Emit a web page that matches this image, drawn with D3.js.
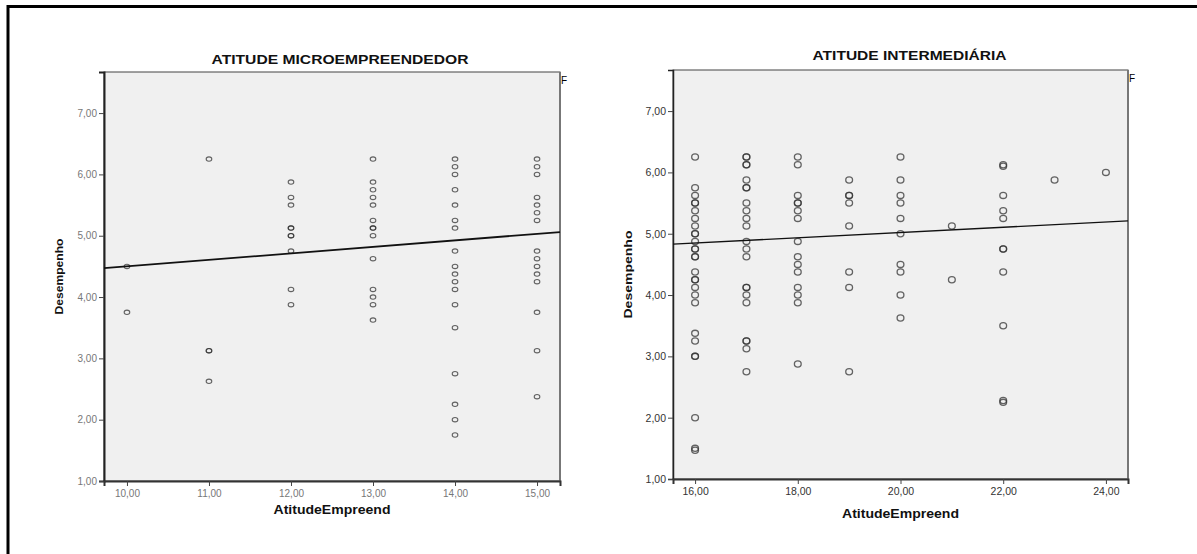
<!DOCTYPE html>
<html>
<head>
<meta charset="utf-8">
<script src="https://cdn.jsdelivr.net/npm/d3@7"></script>
<style>
  body { margin: 0; background: #fff; }
  svg { display: block; font-family: "Liberation Sans", Arial, sans-serif; }
</style>
</head>
<body>
<div id="chart"></div>
<script>
// ---- data ----
// left panel: ATITUDE MICROEMPREENDEDOR
let microCols = [10, 11, 12, 13, 14, 15]
let microVals = [
    [4.5, 3.75],
    [6.25, 3.125, 3.125, 2.625],
    [5.875, 5.625, 5.5, 5.125, 5.125, 5.0, 5.0, 4.75, 4.125, 3.875],
    [6.25, 5.875, 5.75, 5.625, 5.5, 5.25, 5.125, 5.125, 5.0, 4.625, 4.125, 4.0, 3.875, 3.625],
    [6.25, 6.125, 6.0, 5.75, 5.5, 5.25, 5.125, 4.75, 4.5, 4.375, 4.25, 4.125, 3.875, 3.5, 2.75, 2.25, 2.0, 1.75],
    [6.25, 6.125, 6.0, 5.625, 5.5, 5.375, 5.25, 4.75, 4.625, 4.5, 4.375, 4.25, 3.75, 3.125, 2.375]
]
let microLine = [[9.72, 4.47], [15.28, 5.06]]
let microXTicks = [10, 11, 12, 13, 14, 15]

// right panel: ATITUDE INTERMEDIÁRIA
let interCols = [16, 17, 18, 19, 20, 21, 22, 23, 24]
let interVals = [
    [6.25, 5.75, 5.625, 5.5, 5.5, 5.375, 5.25, 5.125, 5.0, 5.0, 4.875, 4.75, 4.75, 4.625, 4.625, 4.375, 4.25, 4.25, 4.125, 4.0, 3.875, 3.375, 3.25, 3.0, 3.0, 2.0, 1.5, 1.47],
    [6.25, 6.25, 6.125, 6.125, 5.875, 5.75, 5.75, 5.5, 5.375, 5.25, 5.125, 4.875, 4.75, 4.625, 4.125, 4.125, 4.0, 3.875, 3.25, 3.25, 3.125, 2.75],
    [6.25, 6.125, 5.625, 5.5, 5.5, 5.375, 5.25, 4.875, 4.625, 4.5, 4.375, 4.125, 4.0, 3.875, 2.875],
    [5.875, 5.625, 5.625, 5.5, 5.125, 4.375, 4.125, 2.75],
    [6.25, 5.875, 5.625, 5.5, 5.25, 5.0, 4.5, 4.375, 4.0, 3.625],
    [5.125, 4.25],
    [6.125, 6.1, 5.625, 5.375, 5.25, 4.75, 4.75, 4.375, 3.5, 2.25, 2.28],
    [5.875],
    [6.0]
]
let interLine = [[15.57, 4.83], [24.43, 5.21]]
let interXTicks = [16, 18, 20, 22, 24]

let yTicks = [1, 2, 3, 4, 5, 6, 7]

const W = 1197, H = 554
const ptBR = d3.formatLocale({ decimal: ",", thousands: ".", grouping: [3], currency: ["R$", ""] })
const fmt = ptBR.format(".2f")

let svg = d3.select("#chart")
    .append("svg")
    .attr("width", W)
    .attr("height", H)

// outer frame (only top and left visible)
svg.append("path")
    .attr("d", "M8," + H + " L8,6.5 L" + W + ",6.5")
    .attr("fill", "none")
    .attr("stroke", "#000")
    .attr("stroke-width", 3)

function drawPanel(p) {
    var x = d3.scaleLinear().domain(p.xDomain).range([p.left, p.right])
    var y = d3.scaleLinear().domain([1, 7.67]).range([p.bottom, p.top])

    // plot background
    svg.append("rect")
        .attr("x", p.left).attr("y", p.top)
        .attr("width", p.right - p.left).attr("height", p.bottom - p.top)
        .attr("fill", "#f0f0f0")
        .attr("stroke", "#444").attr("stroke-width", 1)
    // right border is grey and thicker
    svg.append("line")
        .attr("x1", p.right).attr("x2", p.right)
        .attr("y1", p.top).attr("y2", p.bottom)
        .attr("stroke", "#777").attr("stroke-width", 2)

    // y axis
    var yAxis = svg.append("g")
        .attr("transform", "translate(" + p.left + ",0)")
        .call(d3.axisLeft(y).tickValues(yTicks).tickFormat(fmt).tickSizeOuter(0).tickSize(5).tickPadding(2))
    yAxis.select(".domain").attr("stroke", "#222").attr("stroke-width", p.axisW)
    yAxis.selectAll(".tick line").attr("stroke", "#444")
    yAxis.selectAll(".tick text")
        .attr("fill", p.tickColor)
        .style("font-size", p.tickSize + "px")
        .style("font-family", "Liberation Sans, Arial, sans-serif")

    // x axis
    var xAxis = svg.append("g")
        .attr("transform", "translate(0," + p.bottom + ")")
        .call(d3.axisBottom(x).tickValues(p.xTicks).tickFormat(fmt).tickSizeOuter(0).tickSize(5).tickPadding(4))
    xAxis.select(".domain").attr("stroke", "#333").attr("stroke-width", 2)
    xAxis.selectAll(".tick line").attr("stroke", "#444")
    xAxis.selectAll(".tick text")
        .attr("fill", p.tickColor)
        .style("font-size", p.tickSize + "px")
        .style("font-family", "Liberation Sans, Arial, sans-serif")

    // points
    var pts = []
    p.cols.forEach((c, i) => p.vals[i].forEach(v => pts.push({ x: c, y: v })))
    svg.append("g")
        .selectAll("ellipse")
        .data(pts)
        .enter()
        .append("ellipse")
        .attr("cx", d => x(d.x))
        .attr("cy", d => y(d.y))
        .attr("rx", p.rx)
        .attr("ry", p.ry)
        .attr("fill", "none")
        .attr("stroke", "#333")
        .attr("stroke-opacity", 0.75)
        .attr("stroke-width", p.ptW)

    // fit line
    svg.append("line")
        .attr("x1", x(p.line[0][0])).attr("y1", y(p.line[0][1]))
        .attr("x2", x(p.line[1][0])).attr("y2", y(p.line[1][1]))
        .attr("stroke", "#111")
        .attr("stroke-width", p.lineW)

    // title
    svg.append("text")
        .attr("x", (p.left + p.right) / 2 + p.titleDx)
        .attr("y", p.titleY)
        .attr("text-anchor", "middle")
        .attr("font-size", 12)
        .attr("font-weight", "bold")
        .attr("fill", "#111")
        .attr("textLength", p.titleW)
        .attr("lengthAdjust", "spacingAndGlyphs")
        .text(p.title)

    // axis titles
    svg.append("text")
        .attr("x", (p.left + p.right) / 2)
        .attr("y", p.xLabelY)
        .attr("text-anchor", "middle")
        .attr("font-size", 12)
        .attr("font-weight", "bold")
        .attr("fill", "#111")
        .attr("textLength", 117)
        .attr("lengthAdjust", "spacingAndGlyphs")
        .text("AtitudeEmpreend")

    svg.append("text")
        .attr("transform", "translate(" + p.yLabelX + "," + (p.top + p.bottom) / 2 + ") rotate(-90)")
        .attr("text-anchor", "middle")
        .attr("font-size", 11.5)
        .attr("font-weight", "bold")
        .attr("fill", "#111")
        .attr("textLength", p.yLabelW)
        .attr("lengthAdjust", "spacingAndGlyphs")
        .text("Desempenho")

    // clipped legend letter at top right
    svg.append("text")
        .attr("x", p.right + 1)
        .attr("y", p.top + 12)
        .attr("font-size", 10)
        .attr("fill", "#000")
        .text("F")
}

drawPanel({
    left: 104, right: 560, top: 72, bottom: 481,
    xDomain: [9.72, 15.28], xTicks: microXTicks,
    cols: microCols, vals: microVals, line: microLine,
    rx: 2.8, ry: 2.2, ptW: 1.1, lineW: 1.8, axisW: 2,
    tickColor: "#777", tickSize: 10,
    title: "ATITUDE MICROEMPREENDEDOR", titleW: 257, titleY: 64, titleDx: 8,
    xLabelY: 514, yLabelX: 63, yLabelW: 76
})

drawPanel({
    left: 673, right: 1128, top: 70, bottom: 479,
    xDomain: [15.57, 24.43], xTicks: interXTicks,
    cols: interCols, vals: interVals, line: interLine,
    rx: 3.4, ry: 3.1, ptW: 1.3, lineW: 1.3, axisW: 1.5,
    tickColor: "#333", tickSize: 10.5,
    title: "ATITUDE INTERMEDIÁRIA", titleW: 194, titleY: 60, titleDx: 9,
    xLabelY: 518, yLabelX: 632, yLabelW: 88
})
</script>
</body>
</html>
